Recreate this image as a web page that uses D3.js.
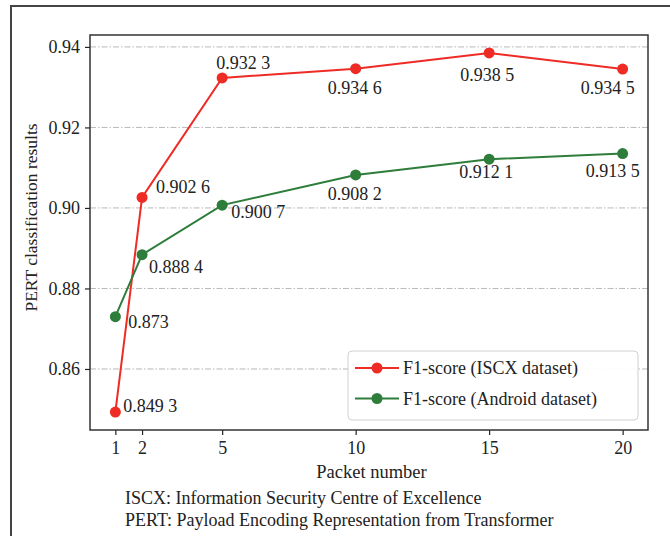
<!DOCTYPE html>
<html><head><meta charset="utf-8">
<script src="https://cdn.jsdelivr.net/npm/d3@7"></script>
<style>html,body{margin:0;padding:0;background:#fff;}svg{display:block;}</style>
</head><body>
<svg id="chart" width="670" height="536"></svg>
<script>
const packets = [1, 2, 5, 10, 15, 20];
const iscxF1 = [0.8493, 0.9026, 0.9323, 0.9346, 0.9385, 0.9345];
const androidF1 = [0.873, 0.8884, 0.9007, 0.9082, 0.9121, 0.9135];
const iscxLabels = ["0.849 3", "0.902 6", "0.932 3", "0.934 6", "0.938 5", "0.934 5"];
const androidLabels = ["0.873", "0.888 4", "0.900 7", "0.908 2", "0.912 1", "0.913 5"];
const yTicks = [0.86, 0.88, 0.90, 0.92, 0.94];
const xTicks = [1, 2, 5, 10, 15, 20];
const seriesNames = ["F1-score (ISCX dataset)", "F1-score (Android dataset)"];

// label placement (layout only): [dx, dy, anchor]
const iscxLabelPos = [[8,0,"start"],[14,-4,"start"],[21,-9,"middle"],[-1,25,"middle"],[-2,28,"middle"],[-15,25,"middle"]];
const androidLabelPos = [[13,11,"start"],[7,18,"start"],[9,13,"start"],[-1,25,"middle"],[-3,19,"middle"],[-10,23,"middle"]];

const FONT = "'Liberation Serif','Times New Roman',serif";
const red = "#ee2b25", green = "#2e7d3b";
const svg = d3.select("#chart");
const L = 90, R = 648, T = 35, B = 430;

// outer frame
svg.append("path").attr("d", "M11,536 V6 H670").attr("fill","none").attr("stroke","#444").attr("stroke-width",2);

const xExt = d3.extent(packets), xPad = (xExt[1]-xExt[0])*0.05;
const allY = iscxF1.concat(androidF1), yExt = d3.extent(allY), yPad = (yExt[1]-yExt[0])*0.05;
const x = d3.scaleLinear().domain([xExt[0]-xPad, xExt[1]+xPad]).range([L, R]);
const y = d3.scaleLinear().domain([yExt[0]-yPad, yExt[1]+yPad]).range([B, T]);

// grid
svg.append("g").selectAll("line").data(yTicks).join("line")
  .attr("x1", L).attr("x2", R).attr("y1", d=>y(d)).attr("y2", d=>y(d))
  .attr("stroke","#b8b8b8").attr("stroke-width",1).attr("stroke-dasharray","6,2,1.5,2");

// axes
const xAxis = svg.append("g").attr("transform",`translate(0,${B})`)
  .call(d3.axisBottom(x).tickValues(xTicks).tickFormat(d3.format("d")).tickSize(5).tickPadding(6));
const yAxis = svg.append("g").attr("transform",`translate(${L},0)`)
  .call(d3.axisLeft(y).tickValues(yTicks).tickFormat(d3.format(".2f")).tickSize(5).tickPadding(5));
[xAxis, yAxis].forEach(a => {
  a.select(".domain").remove();
  a.selectAll(".tick line").attr("stroke","#222").attr("stroke-width",1.2);
  a.selectAll("text").attr("font-family",FONT).attr("font-size",18).attr("fill","#222");
});

// plot frame
svg.append("rect").attr("x",L).attr("y",T).attr("width",R-L).attr("height",B-T)
  .attr("fill","none").attr("stroke","#333").attr("stroke-width",1.5);

const line = d3.line().x(d=>x(d[0])).y(d=>y(d[1]));
function drawSeries(vals, color, labels, pos) {
  const pts = packets.map((p,i)=>[p, vals[i]]);
  svg.append("path").datum(pts).attr("d", line).attr("fill","none").attr("stroke",color).attr("stroke-width",2);
  svg.append("g").selectAll("circle").data(pts).join("circle")
    .attr("cx", d=>x(d[0])).attr("cy", d=>y(d[1])).attr("r",5.5).attr("fill",color);
  svg.append("g").selectAll("text").data(pts).join("text")
    .attr("x",(d,i)=>x(d[0])+pos[i][0]).attr("y",(d,i)=>y(d[1])+pos[i][1])
    .attr("text-anchor",(d,i)=>pos[i][2])
    .attr("font-family",FONT).attr("font-size",18).attr("fill","#222")
    .text((d,i)=>labels[i]);
}
drawSeries(iscxF1, red, iscxLabels, iscxLabelPos);
drawSeries(androidF1, green, androidLabels, androidLabelPos);

// legend
const lg = svg.append("g");
lg.append("rect").attr("x",348).attr("y",351).attr("width",290).attr("height",69).attr("rx",4)
  .attr("fill","#fff").attr("fill-opacity",0.9).attr("stroke","#d0d0d0").attr("stroke-width",1);
[[red,368],[green,398.5]].forEach((c,i)=>{
  lg.append("line").attr("x1",355).attr("x2",399).attr("y1",c[1]).attr("y2",c[1]).attr("stroke",c[0]).attr("stroke-width",2);
  lg.append("circle").attr("cx",377).attr("cy",c[1]).attr("r",5.5).attr("fill",c[0]);
  lg.append("text").attr("x",403).attr("y",c[1]+6).attr("font-family",FONT).attr("font-size",18).attr("fill","#222").text(seriesNames[i]);
});

// axis titles
svg.append("text").attr("x",371.5).attr("y",478).attr("text-anchor","middle")
  .attr("font-family",FONT).attr("font-size",18.5).attr("fill","#222").text("Packet number");
svg.append("text").attr("transform",`translate(37,${217.5}) rotate(-90)`).attr("text-anchor","middle")
  .attr("font-family",FONT).attr("font-size",17.5).attr("fill","#222").text("PERT classification results");

// footnotes
svg.append("text").attr("x",125).attr("y",504).attr("font-family",FONT).attr("font-size",18).attr("fill","#222")
  .text("ISCX: Information Security Centre of Excellence");
svg.append("text").attr("x",125).attr("y",526).attr("font-family",FONT).attr("font-size",18).attr("fill","#222")
  .text("PERT: Payload Encoding Representation from Transformer");
</script>
</body></html>
